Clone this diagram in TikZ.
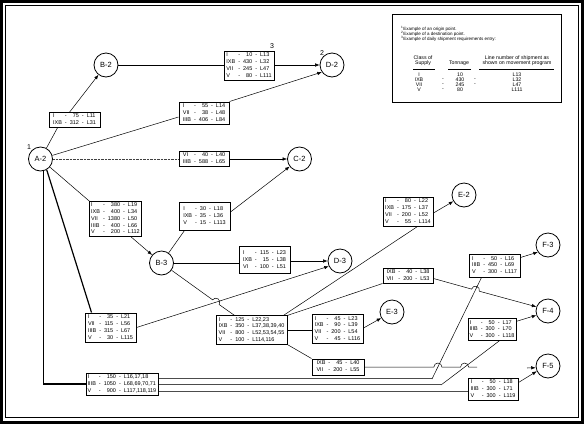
\documentclass[tikz,border=0pt]{standalone}
\usepackage{fontspec}
\setmainfont{Liberation Sans}
\usetikzlibrary{arrows.meta,calc}
\newcommand{\tb}[1]{\begin{tabular}{@{}l@{\hspace{3pt}}c@{\hspace{3pt}}r@{\hspace{3pt}}c@{\hspace{3pt}}l@{}}#1\end{tabular}}
\begin{document}
\begin{tikzpicture}[x=1pt,y=-1pt,
  circ/.style={draw, circle, line width=0.8pt, minimum size=24pt, inner sep=0pt, font=\fontsize{7.5}{8}\selectfont},
  tbox/.style={draw, line width=1pt, inner xsep=1.5pt, inner ysep=0.5pt, font=\fontsize{5.5}{6.8}\selectfont},
  conn/.style={line width=0.5pt},
  arr/.style={line width=0.5pt, -{Latex[length=4.5pt,width=3.5pt]}},
  heavy/.style={line width=1.2pt},
  pipe/.style={draw=black!70, line width=0.35pt, double=white, double distance=0.9pt},
  fn/.style={font=\fontsize{4.5}{5}\selectfont, inner sep=0pt, anchor=west},
  lg/.style={font=\fontsize{5.2}{5.5}\selectfont, inner sep=0pt, align=center},
  num/.style={font=\fontsize{7}{7}\selectfont, inner sep=0pt},
]
\useasboundingbox (0,0) rectangle (584,424);
% frame
\draw[line width=3pt] (1.5,1.5) rectangle (582.5,422.5);
\draw[line width=1pt] (5.5,5.5) rectangle (578.5,417.5);

% circles
\node[circ] (A2) at (40.5,159) {A-2};
\node[circ] (B2) at (106,65) {B-2};
\node[circ] (D2) at (332,65) {D-2};
\node[circ] (C2) at (299.5,159) {C-2};
\node[circ] (B3) at (161.5,263) {B-3};
\node[circ] (D3) at (340,261) {D-3};
\node[circ] (E2) at (464,195) {E-2};
\node[circ] (F3) at (548,245) {F-3};
\node[circ] (E3) at (392,312) {E-3};
\node[circ] (F4) at (548,311) {F-4};
\node[circ] (F5) at (548,366) {F-5};

\node[num] (n1) at (29,147) {1};
\node[num] (n2) at (322,53) {2};
\node[num] (n3) at (272,46) {3};

% boxes
\node[tbox, minimum width=51pt, minimum height=14pt] (B2a) at (74.5,120)
  {\tb{I & - & 75 & - & L11\\ IXB & - & 312 & - & L31}};
\node[tbox, minimum width=50pt, minimum height=29pt] (Box3) at (249,65.5)
  {\tb{I & - & 10 & - & L13\\ IXB & - & 430 & - & L32\\ VII & - & 245 & - & L47\\ V & - & 80 & - & L111}};
\node[tbox, minimum width=50pt, minimum height=22pt] (BoxAD) at (204,113)
  {\tb{I & - & 55 & - & L14\\ VII & - & 38 & - & L48\\ IIIB & - & 406 & - & L84}};
\node[tbox, minimum width=50pt, minimum height=14pt] (BoxAC) at (204,159)
  {\tb{VI & - & 40 & - & L40\\ IIIB & - & 588 & - & L65}};
\node[tbox, minimum width=49pt, minimum height=34pt] (BoxAB3) at (115.5,219)
  {\tb{I & - & 380 & - & L19\\ IXB & - & 400 & - & L34\\ VII & - & 1380 & - & L50\\ IIIB & - & 400 & - & L66\\ V & - & 200 & - & L112}};
\node[tbox, minimum width=51pt, minimum height=28pt] (BoxBC) at (204.5,216)
  {\tb{I & - & 30 & - & L18\\ IXB & - & 35 & - & L36\\ V & - & 15 & - & L113}};
\node[tbox, minimum width=51pt, minimum height=27pt] (BoxBD) at (264.5,260)
  {\tb{I & - & 115 & - & L23\\ IXB & - & 15 & - & L38\\ VI & - & 100 & - & L51}};
\node[tbox, minimum width=51pt, minimum height=29pt] (A2low) at (110.5,327.5)
  {\tb{I & - & 35 & - & L21\\ VII & - & 115 & - & L56\\ IIIB & - & 315 & - & L67\\ V & - & 30 & - & L115}};
\node[tbox, minimum width=72pt, minimum height=22pt] (BL) at (122,384)
  {\tb{I & - & 150 & - & L16,17,18\\ IIIB & - & 1050 & - & L68,69,70,71\\ V & - & 900 & - & L117,118,119}};
\node[tbox, minimum width=50pt, minimum height=29pt] (E2box) at (408,211.5)
  {\tb{I & - & 80 & - & L22\\ IXB & - & 175 & - & L37\\ VII & - & 200 & - & L52\\ V & - & 55 & - & L114}};
\node[tbox, minimum width=71pt, minimum height=28pt] (Mid) at (251.5,330)
  {\tb{I & - & 125 & - & L22,23\\ IXB & - & 350 & - & L37,38,39,40\\ VII & - & 800 & - & L52,53,54,55\\ V & - & 100 & - & L114,116}};
\node[tbox, minimum width=51pt, minimum height=28pt] (E3box) at (337.5,329)
  {\tb{I & - & 45 & - & L23\\ IXB & - & 90 & - & L39\\ VII & - & 200 & - & L54\\ V & - & 45 & - & L116}};
\node[tbox, minimum width=52pt, minimum height=16pt] (Sm2) at (338,367)
  {\tb{IXB & - & 45 & - & L40\\ VII & - & 200 & - & L55}};
\node[tbox, minimum width=50pt, minimum height=15pt] (Sm1) at (408,275.5)
  {\tb{IXB & - & 40 & - & L38\\ VII & - & 200 & - & L53}};
\node[tbox, minimum width=51pt, minimum height=23pt] (F3box) at (494.5,265.5)
  {\tb{I & - & 50 & - & L16\\ IIIB & - & 450 & - & L69\\ V & - & 300 & - & L117}};
\node[tbox, minimum width=48pt, minimum height=21pt] (F4box) at (492,329.5)
  {\tb{I & - & 50 & - & L17\\ IIIB & - & 300 & - & L70\\ V & - & 300 & - & L118}};
\node[tbox, minimum width=50pt, minimum height=22pt] (F5box) at (493,389)
  {\tb{I & - & 50 & - & L18\\ IIIB & - & 300 & - & L71\\ V & - & 300 & - & L119}};

% connectors
\draw[conn] (A2) -- ($(B2a.south west)+(9,0)$);
\draw[arr] ($(B2a.north west)+(21,0)$) -- (B2);
\draw[conn] (B2.east) -- (B2.east -| Box3.west);
\draw[arr] (Box3.east |- D2.west) -- (D2.west);
\draw[conn] (A2) -- ($(BoxAD.west)+(0,4)$);
\draw[arr] (BoxAD.north east) -- (D2.215);
\draw[line width=0.4pt, black!75, densely dotted] (A2.east) -- (BoxAC.west);
\draw[arr] (BoxAC.east) -- (C2.west);
\draw[conn] (A2) -- (BoxAB3.north west);
\draw[arr] ($(BoxAB3.south west)+(42,0)$) -- (B3);
\draw[conn] (B3) -- ($(BoxBC.south west)+(6,0)$);
\draw[arr] ($(BoxBC.east)+(0,-4)$) -- (C2);
\draw[conn] (B3) -- (B3 -| BoxBD.west);
\draw[arr] (BoxBD.east |- D3) -- (D3);
\draw[heavy] (A2.-60) -- ($(A2low.north west)+(7,0)$);
\draw[heavy] (A2.-75) |- (BL.west);
\draw[arr] (A2low.east) -- (D3.205);
\draw[conn] (B3) -- (212.6,299.8) arc[start angle=144.1,end angle=-35.9,radius=4pt] -- ($(Mid.north west)+(19,0)$);
\draw[conn] ($(Mid.north east)+(-4,0)$) -- ($(E2box.south west)+(35,0)$);
\draw[conn] (Mid.north east) -- (Sm1.south west);
\draw[conn] (Mid.east) -- (Mid.east -| E3box.west);
\draw[conn] (Mid.south east) -- (Sm2.north west);
\draw[arr] ($(E3box.east)+(0,-1)$) -- (E3);
\draw[arr] ($(E2box.east)+(0,1.5)$) -- (E2);
\draw[arr] ($(Sm1.east)+(0,3)$) -- (471.6,289.1) arc[start angle=164.7,end angle=-15.3,radius=4pt] -- (F4.160);
\coordinate (c7) at (477,367);
\draw[conn] (Sm2.east) -- (433.9,367) arc[start angle=180,end angle=0,radius=4pt] -- (460.6,367) arc[start angle=180,end angle=0,radius=4pt] -- (c7);
\coordinate (c8) at (527,368);
\draw[arr] (c8) -- (F5.188);
\draw[arr] ($(F3box.north east)+(0,4)$) -- (F3.215);
\draw[arr] ($(F4box.north east)+(0,3)$) -- (F4.200);
\draw[arr] ($(F5box.north east)+(0,5)$) -- (F5.205);
% pipes from BL
\coordinate (k1) at (432,379);
\coordinate (k2) at (441,385);
\coordinate (r3) at ($(BL.east)+(0,8)$);
\draw[pipe] ($(BL.east)+(0,-5)$) -- (k1);
\draw[conn] (k1) -- ($(F3box.south west)+(13,0)$);
\draw[pipe] ($(BL.east)+(0,1)$) -- (k2);
\draw[conn] (k2) -- ($(F4box.south west)+(32,0)$);
\draw[pipe] (r3) -- (r3 -| F5box.west);

% legend
\node[draw, line width=1pt, minimum width=169pt, minimum height=88pt, inner sep=0pt] (leg) at (476.5,58) {};
\node[fn] (f1) at (401,29) {\textsuperscript{1}Example of an origin point.};
\node[fn] (f2) at (401,34) {\textsuperscript{2}Example of a destination point.};
\node[fn] (f3) at (401,39) {\textsuperscript{3}Example of daily shipment requirements entry:};
\node[lg] (h1) at (423,60.5) {Class of\\Supply};
\node[lg] (h2) at (459,63) {Tonnage};
\node[lg] (h3) at (517,60.5) {Line number of shipment as\\shown on movement program};
\draw[line width=0.6pt] (413,69) -- (435,69);
\draw[line width=0.6pt] (448,69) -- (471,69);
\draw[line width=0.6pt] (479,69) -- (554,69);
\node[lg] (r1a) at (419,75) {I};
\node[lg] (r2a) at (419,80) {IXB};
\node[lg] (r3a) at (419,85) {VII};
\node[lg] (r4a) at (419,90) {V};
\node[lg] (r2d) at (443,80) {-};
\node[lg] (r3d) at (443,85) {-};
\node[lg] (r4d) at (443,90) {-};
\node[lg] (r1b) at (460,75) {10};
\node[lg] (r2b) at (460,80) {430};
\node[lg] (r3b) at (460,85) {245};
\node[lg] (r4b) at (460,90) {80};
\node[lg] (r2e) at (475,80) {-};
\node[lg] (r3e) at (475,85) {-};
\node[lg] (r1c) at (517,75) {L13};
\node[lg] (r2c) at (517,80) {L32};
\node[lg] (r3c) at (517,85) {L47};
\node[lg] (r4c) at (517,90) {L111};
\end{tikzpicture}
\end{document}
